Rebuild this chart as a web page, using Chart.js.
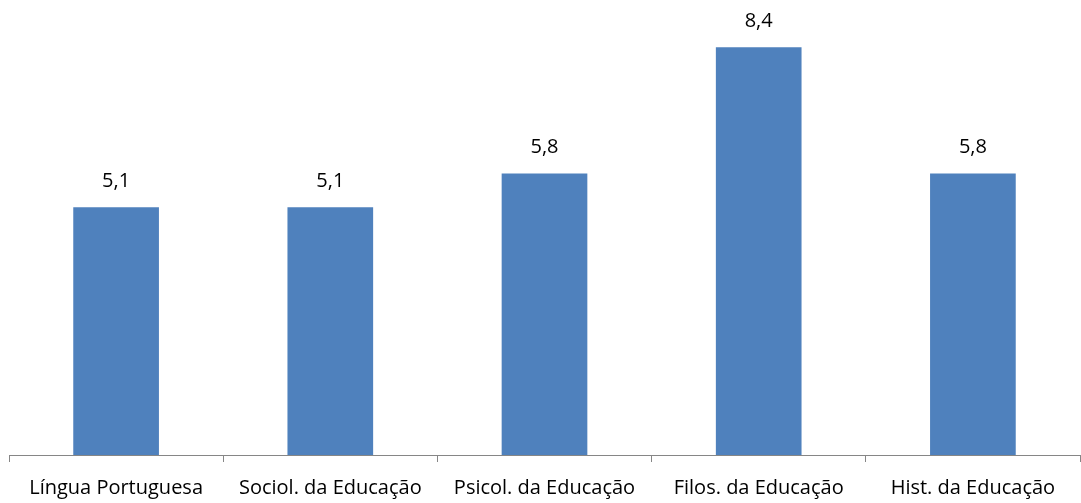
<!DOCTYPE html>
<html>
<head>
<meta charset="utf-8">
<script src="https://cdn.jsdelivr.net/npm/chart.js@4"></script>
<style>
html,body{margin:0;padding:0;background:#fff;overflow:hidden;}
#wrap{width:1081px;height:503px;position:relative;overflow:hidden;}
</style>
</head>
<body>
<div id="wrap"><canvas id="c" width="1081" height="514"></canvas></div>
<script>
const categories = ["Língua Portuguesa", "Sociol. da Educação", "Psicol. da Educação", "Filos. da Educação", "Hist. da Educação"];
const values = [5.1, 5.1, 5.8, 8.4, 5.8];
const yMin = 0;
const yMax = 9;

const FONT = "'Open Sans', 'DejaVu Sans', sans-serif";

const valueLabels = {
  id: 'valueLabels',
  afterDatasetsDraw(chart) {
    const ctx = chart.ctx;
    const meta = chart.getDatasetMeta(0);
    ctx.save();
    ctx.font = "20px " + FONT;
    ctx.fillStyle = "#000";
    ctx.textAlign = "center";
    ctx.textBaseline = "alphabetic";
    meta.data.forEach((bar, i) => {
      const txt = values[i].toFixed(1).replace('.', ',');
      ctx.fillText(txt, bar.x, bar.y - 20);
    });
    ctx.restore();
  }
};

new Chart(document.getElementById('c'), {
  type: 'bar',
  data: {
    labels: categories,
    datasets: [{
      data: values,
      backgroundColor: '#4F81BD',
      borderWidth: 0,
      categoryPercentage: 1.0,
      barPercentage: 0.4
    }]
  },
  options: {
    responsive: false,
    animation: false,
    devicePixelRatio: 1,
    layout: { padding: { left: 9, right: 1, top: 18, bottom: 0 } },
    plugins: { legend: { display: false }, tooltip: { enabled: false } },
    scales: {
      x: {
        offset: true,
        grid: {
          display: true,
          offset: true,
          drawOnChartArea: false,
          drawTicks: true,
          tickLength: 7,
          tickWidth: 1,
          tickColor: '#868686'
        },
        border: { display: true, color: '#868686', width: 1 },
        ticks: {
          color: '#000',
          font: { family: FONT, size: 20 },
          padding: 14,
          maxRotation: 0,
          autoSkip: false
        }
      },
      y: {
        display: false,
        min: yMin,
        max: yMax
      }
    }
  },
  plugins: [valueLabels]
});
</script>
</body>
</html>
